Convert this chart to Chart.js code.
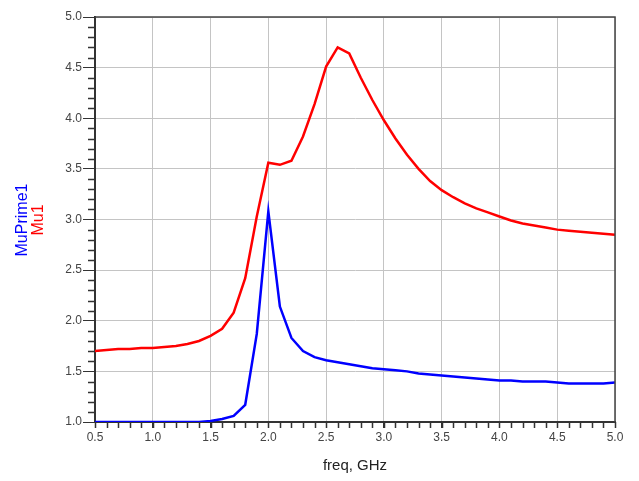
<!DOCTYPE html>
<html>
<head>
<meta charset="utf-8">
<script src="https://cdn.jsdelivr.net/npm/chart.js@4.4.1/dist/chart.umd.min.js"></script>
<style>
  html, body { margin: 0; padding: 0; background: #fff; }
</style>
</head>
<body>
<canvas id="muChart" width="639" height="481"></canvas>
<script>
// frequency sweep, GHz
const freq = [0.5, 0.6, 0.7, 0.8, 0.9, 1.0, 1.1, 1.2, 1.3, 1.4,
              1.5, 1.6, 1.7, 1.8, 1.9, 2.0, 2.1, 2.2, 2.3, 2.4,
              2.5, 2.6, 2.7, 2.8, 2.9, 3.0, 3.1, 3.2, 3.3, 3.4,
              3.5, 3.6, 3.7, 3.8, 3.9, 4.0, 4.1, 4.2, 4.3, 4.4,
              4.5, 4.6, 4.7, 4.8, 4.9, 5.0];

// Mu1 (red)
const mu1 = [1.70, 1.71, 1.72, 1.72, 1.73, 1.73, 1.74, 1.75, 1.77, 1.80,
             1.85, 1.92, 2.08, 2.42, 3.03, 3.56, 3.54, 3.58, 3.82, 4.14,
             4.51, 4.70, 4.64, 4.40, 4.18, 3.98, 3.80, 3.64, 3.50, 3.38,
             3.29, 3.22, 3.16, 3.11, 3.07, 3.03, 2.99, 2.96, 2.94, 2.92,
             2.90, 2.89, 2.88, 2.87, 2.86, 2.85];

// MuPrime1 (blue)
const muPrime1 = [1.00, 1.00, 1.00, 1.00, 1.00, 1.00, 1.00, 1.00, 1.00, 1.00,
                  1.01, 1.03, 1.06, 1.17, 1.87, 3.08, 2.14, 1.83, 1.70, 1.64,
                  1.61, 1.59, 1.57, 1.55, 1.53, 1.52, 1.51, 1.50, 1.48, 1.47,
                  1.46, 1.45, 1.44, 1.43, 1.42, 1.41, 1.41, 1.40, 1.40, 1.40,
                  1.39, 1.38, 1.38, 1.38, 1.38, 1.39];

const xTicks = [0.5, 1.0, 1.5, 2.0, 2.5, 3.0, 3.5, 4.0, 4.5, 5.0];
const yTicks = [1.0, 1.5, 2.0, 2.5, 3.0, 3.5, 4.0, 4.5, 5.0];

const FONT = "'Liberation Sans', Arial, sans-serif";

// small ticks every 0.1 on both axes, plus the top/right frame
const minorTicks = {
  id: 'minorTicks',
  afterDraw(chart) {
    const { ctx, chartArea: a, scales: { x, y } } = chart;
    ctx.save();
    ctx.strokeStyle = '#333';
    ctx.lineWidth = 1.5;
    ctx.beginPath();
    for (let i = 5; i <= 50; i++) {
      const px = Math.round(x.getPixelForValue(i / 10)) + 0.5;
      ctx.moveTo(px, a.bottom);
      ctx.lineTo(px, a.bottom + 6);
    }
    for (let i = 10; i <= 50; i++) {
      if (i % 5 === 0) continue;
      const py = Math.round(y.getPixelForValue(i / 10)) + 0.5;
      ctx.moveTo(a.left - 7, py);
      ctx.lineTo(a.left, py);
    }
    ctx.stroke();

    ctx.strokeStyle = '#444';
    ctx.lineWidth = 1.5;
    ctx.beginPath();
    ctx.moveTo(a.left, a.top);
    ctx.lineTo(a.right, a.top);
    ctx.lineTo(a.right, a.bottom);
    ctx.stroke();
    ctx.restore();
  }
};

// two-colour y axis title
const yTitle = {
  id: 'yTitle',
  afterDraw(chart) {
    const { ctx } = chart;
    ctx.save();
    ctx.font = '16px ' + FONT;
    ctx.textAlign = 'center';
    ctx.textBaseline = 'middle';
    ctx.translate(23, 220);
    ctx.rotate(-Math.PI / 2);
    ctx.fillStyle = '#0000ff';
    ctx.fillText('MuPrime1', 0, 0);
    ctx.fillStyle = '#ff0000';
    ctx.fillText('Mu1', 0, 16);
    ctx.restore();
  }
};

new Chart(document.getElementById('muChart'), {
  type: 'line',
  data: {
    datasets: [
      {
        label: 'Mu1',
        data: freq.map((f, i) => ({ x: f, y: mu1[i] })),
        borderColor: '#ff0000',
        borderWidth: 2.5,
        pointRadius: 0,
        tension: 0
      },
      {
        label: 'MuPrime1',
        data: freq.map((f, i) => ({ x: f, y: muPrime1[i] })),
        borderColor: '#0000ff',
        borderWidth: 2.5,
        pointRadius: 0,
        tension: 0
      }
    ]
  },
  options: {
    responsive: false,
    animation: false,
    layout: { padding: { left: 0, top: 17, right: 24, bottom: 0 } },
    plugins: {
      legend: { display: false },
      tooltip: { enabled: false }
    },
    scales: {
      x: {
        type: 'linear',
        min: 0.5,
        max: 5.0,
        afterBuildTicks: s => { s.ticks = xTicks.map(v => ({ value: v })); },
        afterFit: s => { s.height = 59; },
        ticks: {
          color: '#444',
          font: { family: FONT, size: 12 },
          padding: 2,
          maxRotation: 0,
          callback: v => v.toFixed(1)
        },
        grid: { color: '#c4c4c4', lineWidth: 1, tickLength: 6, tickColor: '#333' },
        border: { color: '#333', width: 2 },
        title: {
          display: true,
          text: 'freq, GHz',
          color: '#222',
          font: { family: FONT, size: 15 },
          padding: { top: 0, bottom: 6 }
        }
      },
      y: {
        min: 1.0,
        max: 5.0,
        afterBuildTicks: s => { s.ticks = yTicks.map(v => ({ value: v })); },
        afterFit: s => { s.width = 95; },
        ticks: {
          color: '#444',
          font: { family: FONT, size: 12 },
          padding: 1,
          callback: v => v.toFixed(1)
        },
        grid: { color: '#c4c4c4', lineWidth: 1, tickLength: 12, tickColor: '#333' },
        border: { color: '#333', width: 2 }
      }
    }
  },
  plugins: [minorTicks, yTitle]
});
</script>
</body>
</html>
